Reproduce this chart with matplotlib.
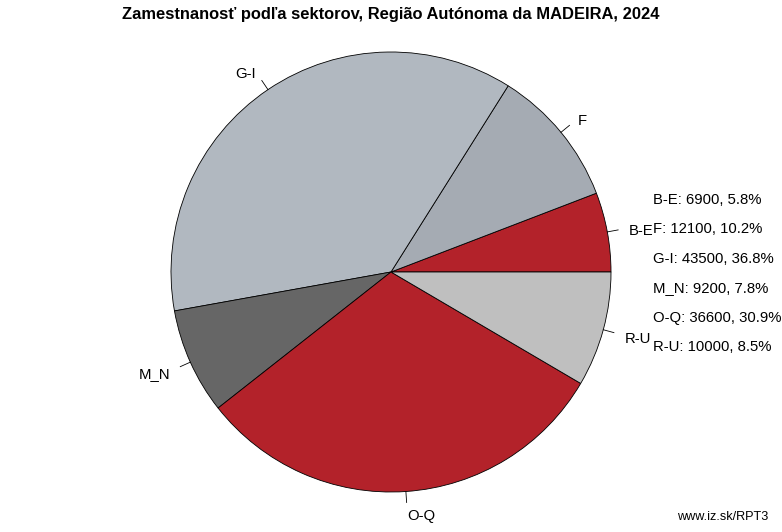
import numpy as np
import matplotlib
matplotlib.use('Agg')
import matplotlib.pyplot as plt

plt.rcParams['font.family'] = ['Liberation Sans', 'DejaVu Sans']

# data
sectors = ['B-E', 'F', 'G-I', 'M_N', 'O-Q', 'R-U']
employed = [6900, 12100, 43500, 9200, 36600, 10000]
colors = ['#b3222a', '#a5abb3', '#b1b8c0', '#666666', '#b3222a', '#bfbfbf']
title = 'Zamestnanosť podľa sektorov, Região Autónoma da MADEIRA, 2024'

W, H = 782, 532
fig = plt.figure(figsize=(W / 100, H / 100), dpi=100)
ax = fig.add_axes([0, 0, 1, 1])

cx, cy, r = 391, H - 272, 220
wedges, texts = ax.pie(employed, labels=sectors, colors=colors, startangle=0,
                       counterclock=True, center=(cx, cy), radius=r,
                       labeldistance=1.1, frame=True,
                       wedgeprops=dict(edgecolor='black', linewidth=0.6),
                       textprops=dict(fontsize=10.7))
ax.set_xlim(0, W)
ax.set_ylim(0, H)
ax.set_aspect('equal')
ax.axis('off')

# tick lines from the pie edge, labels aligned away from the pie
for w, t in zip(wedges, texts):
    a = np.deg2rad((w.theta1 + w.theta2) / 2)
    ax.plot([cx + r * np.cos(a), cx + 1.05 * r * np.cos(a)],
            [cy + r * np.sin(a), cy + 1.05 * r * np.sin(a)],
            color='black', linewidth=0.6)
    x, y = t.get_position()
    t.set_position((x, y - 3))
    t.set_ha('left' if np.cos(a) >= 0 else 'right')
    t.set_va('center')

# value list on the right
total = sum(employed)
for i, (s, v) in enumerate(zip(sectors, employed)):
    ax.text(653, H - 200 - i * 29.4, f'{s}: {v}, {100 * v / total:.1f}%',
            fontsize=10.7, ha='left', va='center')

fig.text(0.5, 1 - 14 / H, title, ha='center', va='center',
         fontsize=11.9, fontweight='bold')
fig.text(768 / W, 1 - 517 / H, 'www.iz.sk/RPT3', ha='right', va='center',
         fontsize=9.1)

fig.savefig('out.png', dpi=100)
